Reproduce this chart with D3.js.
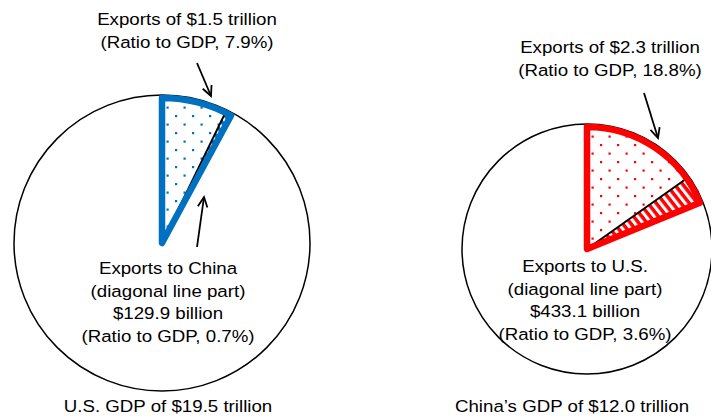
<!DOCTYPE html>
<html>
<head>
<meta charset="utf-8">
<script src="https://cdn.jsdelivr.net/npm/d3@7"></script>
<style>
  html, body { margin: 0; padding: 0; background: #fff; }
  svg { display: block; }
  text { font-family: "Liberation Sans", Arial, sans-serif; fill: #000; }
</style>
</head>
<body>
<svg id="chart" width="711" height="418"></svg>
<script>
// Economy-level figures
const economies = ["U.S.", "China"];
const gdpTrillion = [19.5, 12.0];
const exportsTrillion = [1.5, 2.3];
const exportRatioPct = [7.9, 18.8];
const partners = ["China", "U.S."];
const bilateralBillion = [129.9, 433.1];
const bilateralRatioPct = [0.7, 3.6];
const accentColors = ["#0070C0", "#FF0000"];

// Label text
const gdpLabels = ["U.S. GDP of $19.5 trillion", "China\u2019s GDP of $12.0 trillion"];

const W = 711, H = 418;
const svg = d3.select("#chart");
const defs = svg.append("defs");

// Panel geometry
const panels = [
  { cx: 162, cy: 243, r: 148, topLabel: [187, 25], innerLabel: [168, 274], bottomLabel: [168, 412],
    topArrow: [[197, 63], [211, 96]], innerArrow: [[197, 247], [204, 197]] },
  { cx: 587, cy: 249, r: 125, topLabel: [610, 53], innerLabel: [585, 272], bottomLabel: [572, 412],
    topArrow: [[644, 93], [658, 138]], innerArrow: null }
];

// Percent of GDP -> angle around the circle
const angle = d3.scaleLinear().domain([0, 100]).range([0, 2 * Math.PI]);

// Patterns: sparse dot grid and diagonal stripes
accentColors.forEach((c, i) => {
  const dots = defs.append("pattern")
    .attr("id", "dots" + i)
    .attr("patternUnits", "userSpaceOnUse")
    .attr("width", 17).attr("height", 17)
    .attr("x", panels[i].cx).attr("y", panels[i].cy);
  dots.append("rect").attr("width", 17).attr("height", 17).attr("fill", "#fff");
  dots.append("rect").attr("x", 4).attr("y", 3).attr("width", 2.2).attr("height", 2.2).attr("fill", c);
  dots.append("rect").attr("x", 12.5).attr("y", 11.5).attr("width", 2.2).attr("height", 2.2).attr("fill", c);

  const stripes = defs.append("pattern")
    .attr("id", "stripes" + i)
    .attr("patternUnits", "userSpaceOnUse")
    .attr("width", 6.5).attr("height", 6.5)
    .attr("patternTransform", "rotate(-38)");
  stripes.append("rect").attr("width", 6.5).attr("height", 6.5).attr("fill", c);
  stripes.append("rect").attr("x", 0).attr("width", 3).attr("height", 6.5).attr("fill", "#fff");
});

const lineH = 22.7;
function label(x, y, lines) {
  const g = svg.append("g").attr("transform", `translate(${x},${y}) scale(1.1,1)`);
  lines.forEach((t, k) => {
    g.append("text")
      .attr("x", 0).attr("y", k * lineH)
      .attr("text-anchor", "middle")
      .attr("font-size", 17)
      .text(t);
  });
}

function arrow(p0, p1) {
  const dx = p1[0] - p0[0], dy = p1[1] - p0[1];
  const a = Math.atan2(dy, dx);
  const len = 11, spread = 0.45;
  const g = svg.append("g").attr("stroke", "#000").attr("stroke-width", 1.8).attr("fill", "none");
  g.append("line").attr("x1", p0[0]).attr("y1", p0[1]).attr("x2", p1[0]).attr("y2", p1[1]);
  g.append("path").attr("d",
    `M${p1[0] - len * Math.cos(a - spread)},${p1[1] - len * Math.sin(a - spread)}` +
    `L${p1[0]},${p1[1]}` +
    `L${p1[0] - len * Math.cos(a + spread)},${p1[1] - len * Math.sin(a + spread)}`);
}

economies.forEach((name, i) => {
  const p = panels[i];
  const g = svg.append("g").attr("transform", `translate(${p.cx},${p.cy})`);
  const wedgeR = p.r - 3;
  const split = angle(exportRatioPct[i] - bilateralRatioPct[i]);
  const end = angle(exportRatioPct[i]);

  // GDP circle
  g.append("circle").attr("r", p.r).attr("fill", "#fff")
    .attr("stroke", "#000").attr("stroke-width", 1.5);

  const arc = d3.arc().innerRadius(0).outerRadius(wedgeR);

  // Exports to other destinations (dotted)
  g.append("path").attr("d", arc({ startAngle: 0, endAngle: split }))
    .attr("fill", `url(#dots${i})`);
  // Exports to the partner (diagonal lines)
  g.append("path").attr("d", arc({ startAngle: split, endAngle: end }))
    .attr("fill", `url(#stripes${i})`);

  // Divider between the two parts
  g.append("line")
    .attr("x1", 0).attr("y1", 0)
    .attr("x2", wedgeR * Math.sin(split)).attr("y2", -wedgeR * Math.cos(split))
    .attr("stroke", "#000").attr("stroke-width", 2);

  // Outline of the total exports wedge
  g.append("path").attr("d", arc({ startAngle: 0, endAngle: end }))
    .attr("fill", "none")
    .attr("stroke", accentColors[i])
    .attr("stroke-width", 6.5)
    .attr("stroke-linejoin", "round");

  label(p.topLabel[0], p.topLabel[1], [
    `Exports of $${exportsTrillion[i].toFixed(1)} trillion`,
    `(Ratio to GDP, ${exportRatioPct[i].toFixed(1)}%)`
  ]);
  label(p.innerLabel[0], p.innerLabel[1], [
    `Exports to ${partners[i]}`,
    "(diagonal line part)",
    `$${bilateralBillion[i].toFixed(1)} billion`,
    `(Ratio to GDP, ${bilateralRatioPct[i].toFixed(1)}%)`
  ]);
  label(p.bottomLabel[0], p.bottomLabel[1], [gdpLabels[i]]);

  arrow(p.topArrow[0], p.topArrow[1]);
  if (p.innerArrow) arrow(p.innerArrow[0], p.innerArrow[1]);
});
</script>
</body>
</html>
